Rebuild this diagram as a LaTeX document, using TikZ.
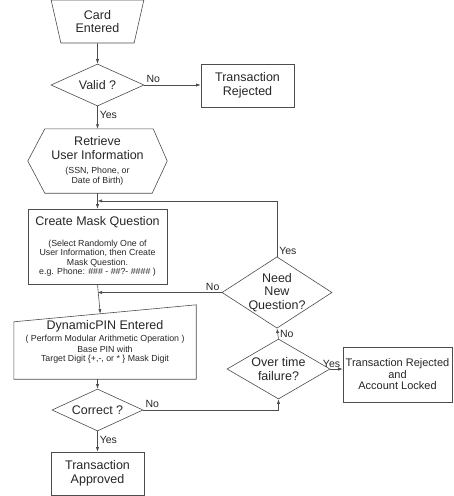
\documentclass[tikz,border=0pt]{standalone}
\usepackage{fontspec}
\setmainfont{Liberation Sans}
\usetikzlibrary{shapes.geometric, arrows.meta, calc}
\def\bigtxt{\fontsize{12.5}{13.5}\selectfont}
\def\smtxt{\fontsize{8.8}{9.6}\selectfont}
\def\labtxt{\fontsize{10.5}{12}\selectfont}

\begin{document}
\begin{tikzpicture}[x=1pt, y=-1pt,
  every node/.style={text=black!85},
  line/.style={draw=black!70, line width=0.6pt},
  flow/.style={line, -{Latex[length=4.5pt,width=3.2pt]}},
  proc/.style={line, rectangle, align=center, font=\bigtxt, inner sep=1pt},
  test/.style={line, diamond, align=center, font=\bigtxt, inner sep=-6pt},
  lab/.style={font=\labtxt, inner sep=2pt}]
  \useasboundingbox (0,0) rectangle (454,496);

  \node (card) [line, trapezium, shape border rotate=180, trapezium angle=75.6,
    trapezium stretches=true, minimum width=93pt, minimum height=43pt,
    align=center, font=\bigtxt, inner sep=0pt] at (97.5,21.5) {Card\\Entered};
  \node (valid) [test, minimum width=93pt, minimum height=42pt] at (97.5,85) {Valid ?};
  \node (rej) [proc, minimum width=93pt, minimum height=43pt] at (247.5,85.5) {Transaction\\Rejected};
  \node (info) [align=center, font=\bigtxt, minimum width=139pt, minimum height=64pt, inner sep=0pt]
    at (97.5,161) {Retrieve\\User Information\\[1pt]\smtxt (SSN, Phone, or\\[-3.5pt]\smtxt Date of Birth)};
  \draw[line] ([xshift=17pt]info.north west) -- ([xshift=-14pt]info.north east) -- (info.east)
    -- ([xshift=-15pt]info.south east) -- ([xshift=17pt]info.south west) -- (info.west) -- cycle;
  \node (mask) [proc, minimum width=139pt, minimum height=75pt] at (97.5,246.5)
    {Create Mask Question\\[7pt]\smtxt (Select Randomly One of\\[-4.2pt]\smtxt User Information, then Create\\[-4.2pt]\smtxt Mask Question.\\[-4.2pt]\smtxt e.g. Phone: \#\#\# - \#\#?- \#\#\#\# )};
  \node (need) [test, minimum width=110pt, minimum height=65pt] at (277,292.5) {Need\\New\\Question?};
  \node (pin) [align=center, font=\bigtxt, minimum width=182pt, minimum height=74pt, inner sep=0pt]
    at (105,342) {DynamicPIN Entered\\[-2pt]\smtxt ( Perform Modular Arithmetic Operation )\\[-2.5pt]\smtxt Base PIN with\\[-4.5pt]\smtxt Target Digit \{+,-, or * \} Mask Digit};
  \draw[line] (pin.south west) -- ([yshift=-17pt]pin.north west) -- (pin.north east) -- (pin.south east) -- cycle;
  \node (correct) [test, minimum width=91pt, minimum height=42pt] at (97.5,410) {Correct ?};
  \node (over) [test, minimum width=103pt, minimum height=60pt] at (278.5,369) {Over time\\failure?};
  \node (lock) [proc, font=\fontsize{11}{11.5}\selectfont, minimum width=109pt, minimum height=55pt]
    at (397.5,374.5) {Transaction Rejected\\and\\Account Locked};
  \node (ok) [proc, minimum width=93pt, minimum height=43pt] at (97.5,473.5) {Transaction\\Approved};

  \coordinate (loop) at ($(info.south)!0.5!(mask.north)$);
  \coordinate (back) at (mask.south |- need.west);
  \coordinate (pinin) at ($([yshift=-17pt]pin.north west)!(mask.south)!(pin.north east)$);

  \draw[flow] (card.south) -- (valid.north);
  \draw[flow] (valid.east) -- node[lab, pos=0, above right] {No} (valid.east -| rej.west);
  \draw[flow] (valid.south) -- node[lab, right, pos=0.4] {Yes} (info.north);
  \draw[flow] (info.south) -- (mask.north);
  \draw[flow] (need.north) |- node[lab, pos=0, above right] {Yes} (loop);
  \draw[flow] (need.west) -- node[lab, pos=0, above left] {No} (back);
  \draw[flow] (mask.south) -- (pinin);
  \draw[flow] (correct.north |- pin.south) -- (correct.north);
  \draw[flow] (correct.east) -| node[lab, pos=0, above right] {No} (over.south);
  \draw[flow] (correct.south) -- node[lab, right, pos=0.4] {Yes} (ok.north);
  \draw[flow] (over.north) -- node[lab, right] {No} (need.south);
  \draw[flow] (over.east) -- node[lab, pos=0.1, above, inner sep=1pt] {Yes} (over.east -| lock.west);
\end{tikzpicture}
\end{document}
